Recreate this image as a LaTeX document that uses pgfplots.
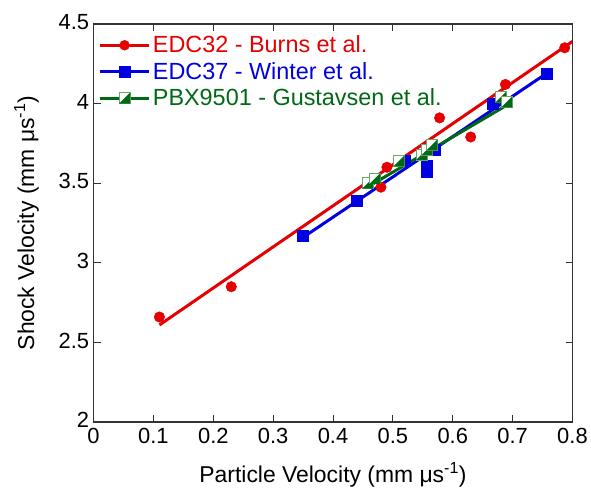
\documentclass[border=0pt]{standalone}
\usepackage{pgfplots}
\pgfplotsset{compat=1.18}
\usepackage{fontspec}
\setmainfont{Liberation Sans}
\definecolor{edcred}{RGB}{230,0,0}
\definecolor{edcblue}{RGB}{0,0,225}
\definecolor{pbxgreen}{RGB}{0,105,20}
\definecolor{pbxedge}{RGB}{110,165,110}

% half filled square: lower right triangle filled, outline drawn
\pgfdeclareplotmark{halfsq}{%
  \pgfpathrectangle{\pgfqpoint{-\pgfplotmarksize}{-\pgfplotmarksize}}{\pgfqpoint{2\pgfplotmarksize}{2\pgfplotmarksize}}%
  \pgfsetfillcolor{white}%
  \pgfusepathqfillstroke
  \pgfpathmoveto{\pgfqpoint{\pgfplotmarksize}{\pgfplotmarksize}}%
  \pgfpathlineto{\pgfqpoint{\pgfplotmarksize}{-\pgfplotmarksize}}%
  \pgfpathlineto{\pgfqpoint{-\pgfplotmarksize}{-\pgfplotmarksize}}%
  \pgfpathclose
  \pgfsetfillcolor{pbxgreen}%
  \pgfusepathqfill
}

\begin{document}
\begin{tikzpicture}
\begin{axis}[
    name=ax,
    scale only axis,
    width=481bp, height=400bp,
    xmin=0, xmax=0.8, ymin=2, ymax=4.5,
    xtick={0,0.1,...,0.8},
    ytick={2,2.5,...,4.5},
    xticklabels={0,0.1,0.2,0.3,0.4,0.5,0.6,0.7,0.8},
    yticklabels={2,2.5,3,3.5,4,4.5},
    tick align=inside,
    major tick length=7bp,
    axis line style={line width=1.4bp, black!80},
    tick style={line width=1bp, black!80},
    /pgf/number format/assume math mode=true,
    ticklabel style={font=\fontsize{22bp}{26bp}\selectfont},
    xticklabel style={yshift=-3bp},
    yticklabel style={xshift=-1bp, yshift=2bp},
    label style={font=\fontsize{23bp}{26bp}\selectfont},
    xlabel={Particle Velocity (mm μs\textsuperscript{-1})},
    ylabel={Shock Velocity (mm μs\textsuperscript{-1})},
    xlabel style={yshift=-12bp},
    ylabel style={yshift=13bp},
    legend cell align=left,
    legend style={at={(0.005,0.975)}, anchor=north west, draw=none, fill=none,
        font=\fontsize{23.5bp}{26bp}\selectfont, row sep=4bp,
        inner xsep=2bp, inner ysep=0bp},
]
% fitted lines
\addplot[edcred, line width=3bp, forget plot] coordinates {(0.11,2.61) (0.80,4.39)};
\addplot[edcblue, line width=3bp, forget plot] coordinates {(0.35,3.16) (0.757,4.19)};
\addplot[pbxgreen, line width=3bp, forget plot] coordinates {(0.455,3.47) (0.695,4.00)};

% data
\addplot[only marks, mark=*, mark size=5.3bp, color=edcred,
    legend image code/.code={\draw[edcred, line width=3bp] (0bp,0bp)--(50bp,0bp);
        \fill[edcred] (25bp,0bp) circle (5bp);}]
coordinates {
 (0.11,2.66) (0.23,2.85) (0.48,3.475) (0.49,3.60)
 (0.578,3.91) (0.63,3.79) (0.688,4.12) (0.787,4.35)
};
\addlegendentry{\color{edcred}EDC32 - Burns et al.}

\addplot[only marks, mark=square*, mark size=5.5bp, color=edcblue,
    legend image code/.code={\draw[edcblue, line width=3bp] (0bp,0bp)--(50bp,0bp);
        \fill[edcblue] (20bp,-5.5bp) rectangle (31bp,5.5bp);}]
coordinates {
 (0.35,3.17) (0.44,3.39) (0.52,3.64) (0.557,3.57) (0.557,3.61)
 (0.57,3.71) (0.667,4.00) (0.757,4.19)
};
\addlegendentry{\color{edcblue}EDC37 - Winter et al.}

\addplot[only marks, mark=halfsq, mark size=5.5bp, draw=pbxedge, line width=0.8bp,
    legend image code/.code={\draw[pbxgreen, line width=3bp] (0bp,0bp)--(50bp,0bp);
        \draw[pbxedge, line width=0.8bp, mark size=5.5bp] plot[mark=halfsq] coordinates {(25bp,0bp)};}]
coordinates {
 (0.458,3.50) (0.47,3.53) (0.51,3.64) (0.548,3.68) (0.557,3.71)
 (0.565,3.74) (0.68,4.04) (0.69,4.01)
};
\addlegendentry{\color{pbxgreen}PBX9501 - Gustavsen et al.}
\end{axis}
\path[use as bounding box] ([shift={(-94bp,-64bp)}]ax.south west) rectangle ([shift={(16bp,24bp)}]ax.north east);
\end{tikzpicture}
\end{document}
